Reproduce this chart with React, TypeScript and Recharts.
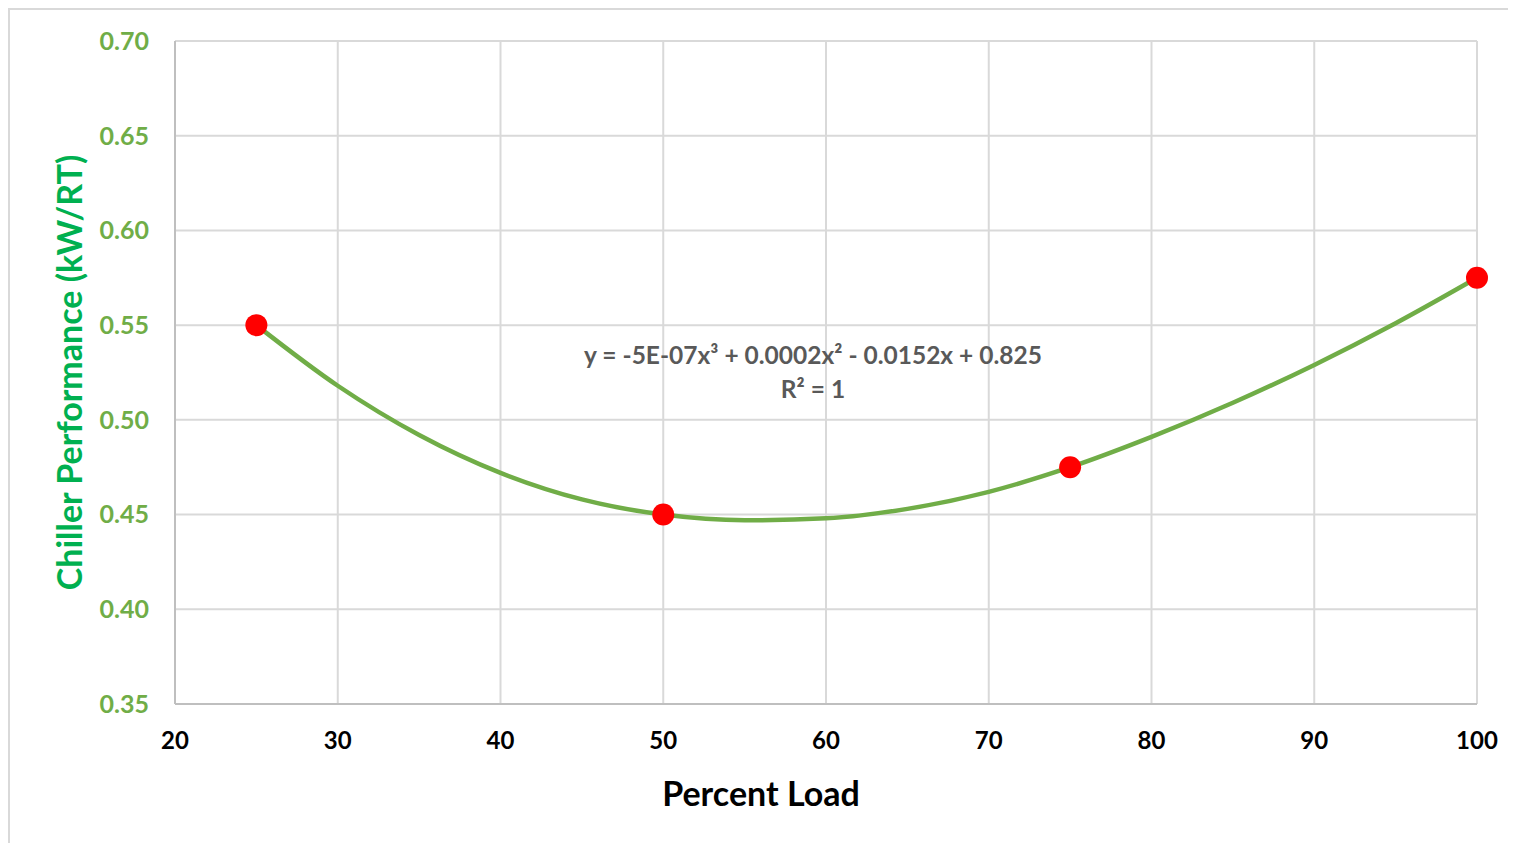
import { CartesianGrid, Label, LineChart, Line, XAxis, YAxis } from "recharts";

// measured points (x = % load, y = kW/RT)
const loads = [25, 50, 75, 100];
const perf = [0.55, 0.45, 0.475, 0.575];

// trendline every 5% load
const trendLoads = [25, 30, 35, 40, 45, 50, 55, 60, 65, 70, 75, 80, 85, 90, 95, 100];
const trendPerf = [0.55, 0.518, 0.492, 0.472, 0.458, 0.45, 0.447, 0.448, 0.453, 0.462, 0.475, 0.491, 0.509, 0.529, 0.551, 0.575];

const xTicks = [20, 30, 40, 50, 60, 70, 80, 90, 100];
const yTicks = [0.35, 0.4, 0.45, 0.5, 0.55, 0.6, 0.65, 0.7];

const equation = "y = -5E-07x³ + 0.0002x² - 0.0152x + 0.825";
const rSquared = "R² = 1";

const points = loads.map((x, i) => ({ x, y: perf[i] }));
const trend = trendLoads.map((x, i) => ({ x, y: trendPerf[i] }));

const FONT = "Lato, 'Open Sans', sans-serif";

export default function App() {
  return (
    <div
      style={{
        width: 1506,
        height: 833,
        borderTop: "2px solid #d9d9d9",
        borderLeft: "2px solid #d9d9d9",
        position: "relative",
        fontFamily: FONT,
        overflow: "hidden",
      }}
    >
      <LineChart
        width={1506}
        height={833}
        margin={{ top: 31, right: 39, bottom: 109, left: 65 }}
      >
        <CartesianGrid stroke="#d9d9d9" strokeWidth={2} />
        <XAxis
          type="number"
          dataKey="x"
          domain={[20, 100]}
          ticks={xTicks}
          allowDuplicatedCategory={false}
          stroke="#bfbfbf"
          strokeWidth={2}
          tickLine={false}
          tickMargin={22}
          tick={{ fill: "#000", fontSize: 24, fontWeight: 700, fontFamily: FONT }}
        >
          <Label
            value="Percent Load"
            position="bottom"
            offset={48}
            dx={-65}
            style={{ fill: "#000", fontSize: 34, fontWeight: 700, fontFamily: FONT }}
          />
        </XAxis>
        <YAxis
          type="number"
          domain={[0.35, 0.7]}
          ticks={yTicks}
          width={100}
          stroke="#bfbfbf"
          strokeWidth={2}
          tickLine={false}
          tickMargin={20}
          tickFormatter={(v: number) => v.toFixed(2)}
          tick={{ fill: "#70AD47", fontSize: 25, fontWeight: 700, fontFamily: FONT }}
        >
          <Label
            value="Chiller Performance (kW/RT)"
            angle={-90}
            position="left"
            offset={5}
            style={{ fill: "#00B050", fontSize: 34, fontWeight: 700, fontFamily: FONT, textAnchor: "middle" }}
          />
        </YAxis>
        <Line
          data={points}
          dataKey="y"
          stroke="none"
          dot={{ r: 11, fill: "#FF0000", stroke: "none" }}
          activeDot={false}
          isAnimationActive={false}
        />
        <Line
          data={trend}
          dataKey="y"
          type="monotone"
          stroke="#70AD47"
          strokeWidth={4.5}
          dot={false}
          activeDot={false}
          isAnimationActive={false}
        />
      </LineChart>
      <div
        style={{
          position: "absolute",
          left: 503,
          top: 328,
          width: 600,
          textAlign: "center",
          color: "#595959",
          fontWeight: 700,
          fontSize: 24.5,
          lineHeight: "34px",
          whiteSpace: "nowrap",
        }}
      >
        <div>{equation}</div>
        <div>{rSquared}</div>
      </div>
    </div>
  );
}
